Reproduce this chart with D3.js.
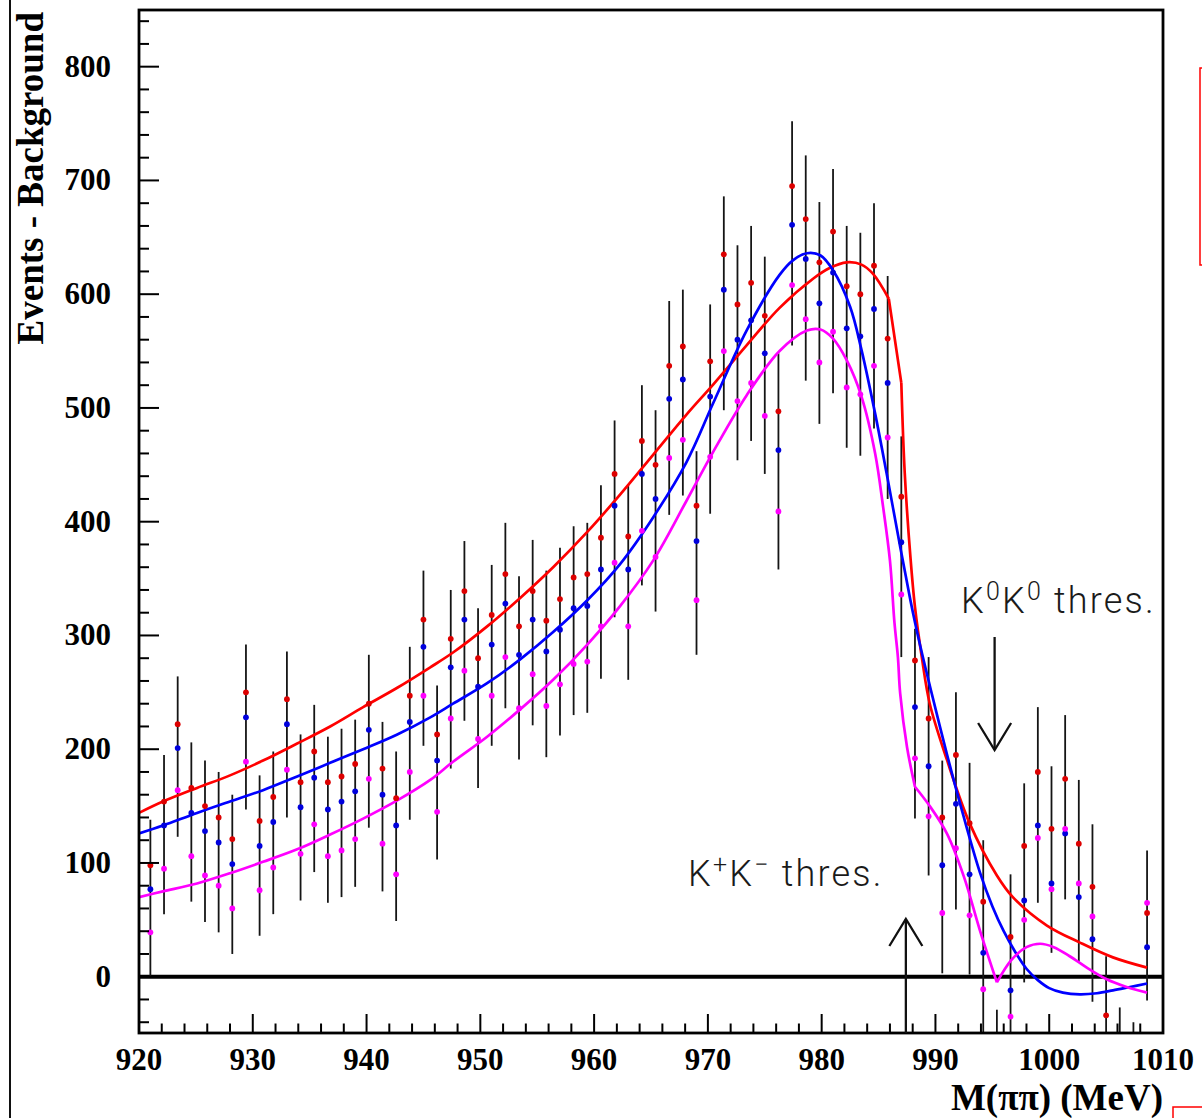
<!DOCTYPE html>
<html>
<head>
<meta charset="utf-8">
<script src="https://d3js.org/d3.v7.min.js"></script>
<style>
  body { margin: 0; background: #fff; }
  svg { display: block; }
</style>
</head>
<body>
<svg id="chart" width="1202" height="1118"></svg>
<script>
// pi pi mass spectrum near the KK threshold, events minus background

// bin centres (MeV)
var bins = [921.0, 922.2, 923.4, 924.6, 925.8, 927.0, 928.2, 929.4, 930.6, 931.8,
  933.0, 934.2, 935.4, 936.6, 937.8, 939.0, 940.2, 941.4, 942.6, 943.8,
  945.0, 946.2, 947.4, 948.6, 949.8, 951.0, 952.2, 953.4, 954.6, 955.8,
  957.0, 958.2, 959.4, 960.6, 961.8, 963.0, 964.2, 965.4, 966.6, 967.8,
  969.0, 970.2, 971.4, 972.6, 973.8, 975.0, 976.2, 977.4, 978.6, 979.8,
  981.0, 982.2, 983.4, 984.6, 985.8, 987.0, 988.2, 989.4, 990.6, 991.8,
  993.0, 994.2, 995.4, 996.6, 997.8, 999.0, 1000.2, 1001.4, 1002.6, 1003.8,
  1005.0, 1006.2, 1007.4, 1008.6];

var redPts = [98, 154, 222, 166, 150, 140, 121, 250, 137, 158,
  244, 171, 198, 171, 176, 187, 240, 183, 157, 247,
  314, 213, 297, 339, 280, 318, 354, 308, 339, 313,
  332, 351, 354, 386, 442, 387, 471, 450, 537, 554,
  414, 541, 635, 591, 610, 581, 497, 695, 666, 628,
  655, 607, 600, 625, 561, 422, 278, 227, 140, 195,
  135, 66, -85, 35, 115, 180, 130, 174, 117, 79,
  -34, -60, -70, 56];

var bluePts = [77, 133, 201, 144, 128, 118, 99, 228, 115, 136,
  222, 149, 175, 147, 154, 163, 217, 160, 133, 224,
  290, 190, 272, 314, 255, 292, 328, 283, 314, 286,
  305, 324, 326, 358, 414, 358, 442, 420, 508, 525,
  383, 510, 604, 560, 577, 548, 463, 661, 631, 592,
  619, 570, 563, 587, 522, 382, 237, 185, 98, 152,
  90, 21, -105, -12, 67, 133, 82, 126, 70, 33,
  -80, -105, -118, 26];

var magPts = [39, 95, 164, 106, 89, 80, 60, 189, 76, 96,
  182, 108, 134, 106, 111, 121, 174, 117, 90, 180,
  247, 145, 227, 269, 209, 247, 281, 236, 266, 238,
  257, 275, 277, 308, 364, 308, 392, 369, 456, 472,
  331, 457, 550, 506, 522, 493, 409, 608, 578, 540,
  567, 518, 512, 537, 474, 336, 192, 141, 56, 113,
  54, -11, -125, -35, 50, 122, 77, 130, 82, 53,
  -70, -95, -105, 65];

// error bar ends
var errHi = [138, 195, 264, 206, 190, 180, 160, 292, 177, 198,
  286, 213, 239, 211, 218, 226, 283, 224, 198, 290,
  357, 256, 340, 383, 324, 362, 399, 352, 384, 357,
  377, 396, 399, 432, 489, 433, 520, 498, 594, 604,
  462, 591, 686, 643, 660, 633, 548, 752, 722, 681,
  710, 660, 654, 680, 616, 475, 306, 281, 190, 250,
  188, 120, -29, 90, 170, 237, 185, 230, 173, 134,
  18, -27, -40, 111];

var errLo = [0, 55, 123, 66, 48, 39, 20, 147, 36, 55,
  140, 67, 92, 65, 70, 79, 131, 75, 49, 138,
  203, 103, 183, 225, 166, 203, 236, 191, 221, 193,
  212, 230, 232, 262, 316, 261, 344, 321, 406, 423,
  283, 407, 498, 454, 471, 442, 358, 555, 524, 486,
  513, 465, 458, 482, 420, 281, 139, 89, 3, 59,
  2, -95, -170, -110, -5, 65, 21, 68, 13, -22,
  -160, -190, -200, -21];

// fitted curves, [mass, events]
var redFit = [[920.0, 144], [922.1, 154], [925.1, 166], [928.0, 177], [930.9, 190],
  [933.9, 205], [936.8, 220], [939.7, 237], [942.7, 254], [945.6, 272],
  [947.6, 285], [950.6, 308], [953.5, 333], [956.4, 360], [959.4, 391],
  [962.3, 424], [965.2, 459], [968.1, 494], [970.5, 521], [973.4, 555],
  [976.3, 588], [979.3, 614], [980.7, 623], [982.2, 628], [983.5, 626],
  [984.5, 618], [985.9, 596], [987.0, 522], [987.3, 443], [987.8, 369],
  [988.2, 325], [988.8, 281], [989.5, 240], [991.0, 191], [993.0, 135],
  [995.4, 89], [996.8, 70], [999.8, 45], [1002.7, 30], [1005.6, 17], [1008.6, 8]];

var blueFit = [[920.0, 126], [922.1, 133], [925.1, 144], [928.0, 154], [930.9, 164],
  [933.9, 176], [936.8, 188], [939.7, 200], [942.7, 213], [945.6, 228],
  [947.6, 240], [950.6, 258], [953.5, 279], [956.4, 303], [959.4, 331],
  [962.3, 363], [965.2, 404], [968.1, 452], [970.5, 505], [973.4, 568],
  [976.3, 617], [977.5, 630], [978.7, 636], [979.9, 634], [981.0, 621],
  [982.5, 589], [983.5, 551], [984.7, 495], [985.7, 443], [986.9, 378],
  [987.8, 331], [988.5, 298], [989.5, 256], [991.0, 196], [992.5, 140],
  [993.9, 92], [995.0, 62], [996.0, 40], [997.0, 22], [998.0, 7], [999.0, -3],
  [1000.0, -10], [1001.2, -14], [1002.7, -15.5], [1004.2, -14.5], [1005.6, -12],
  [1007.1, -9], [1008.6, -6]];

var magFit = [[920.0, 70], [922.1, 75], [925.1, 82], [928.0, 91], [930.9, 101],
  [933.9, 112], [936.8, 125], [939.7, 139], [942.7, 155], [945.6, 173],
  [947.6, 189], [950.6, 211], [953.5, 235], [956.4, 261], [959.4, 292],
  [962.3, 326], [965.2, 366], [968.1, 418], [970.5, 462], [973.4, 511],
  [976.3, 550], [978.7, 568], [979.9, 569], [981.0, 561], [982.2, 542],
  [983.5, 510], [984.7, 460], [985.4, 413], [986.0, 366], [986.4, 311],
  [986.7, 281], [986.9, 249], [987.5, 202], [988.2, 167], [989.5, 150],
  [991.0, 126], [992.5, 88], [993.9, 41], [995.4, -5], [996.7, 15],
  [998.0, 26], [999.2, 29], [1000.4, 26], [1001.8, 18], [1003.3, 8],
  [1005.0, -2], [1006.8, -9], [1008.6, -14]];

// corners in the fitted curves (masses where the drawn line breaks)
var redKinks = [985.9, 987.0];
var blueKinks = [];
var magKinks = [988.2, 995.4];

// thresholds (MeV)
var thresKK0 = 995.2;
var thresKpKm = 987.4;

var xTicks = [920, 930, 940, 950, 960, 970, 980, 990, 1000, 1010];
var yTicks = [0, 100, 200, 300, 400, 500, 600, 700, 800];

var svg = d3.select('#chart');

var padL = 139, padR = 1163, padT = 10, padB = 1033;

var x = d3.scaleLinear().domain([920, 1010]).range([padL, padR]);
var y = d3.scaleLinear().domain([-50, 850]).range([1033.6, 9.8]);

svg.append('rect').attr('width', 1202).attr('height', 1118).attr('fill', '#fff');

// page edge line on the left
svg.append('line').attr('x1', 10).attr('x2', 10).attr('y1', 0).attr('y2', 1118)
  .attr('stroke', '#111').attr('stroke-width', 2);

svg.append('clipPath').attr('id', 'plotclip')
  .append('rect').attr('x', padL).attr('y', padT).attr('width', padR - padL).attr('height', padB - padT);

var plot = svg.append('g').attr('clip-path', 'url(#plotclip)');

// zero line
plot.append('line')
  .attr('x1', padL).attr('x2', padR).attr('y1', y(0)).attr('y2', y(0))
  .attr('stroke', '#000').attr('stroke-width', 4);

var rows = bins.map(function(b, i){
  return {m: b, r: redPts[i], b: bluePts[i], g: magPts[i], hi: errHi[i], lo: errLo[i]};
});

// error bars
plot.selectAll('line.err').data(rows).enter().append('line')
  .attr('class', 'err')
  .attr('x1', function(d){ return x(d.m); })
  .attr('x2', function(d){ return x(d.m); })
  .attr('y1', function(d){ return y(d.hi); })
  .attr('y2', function(d){ return y(d.lo); })
  .attr('stroke', '#151515').attr('stroke-width', 1.8);

var line = d3.line()
  .curve(d3.curveCatmullRom.alpha(0.5))
  .x(function(d){ return x(d[0]); })
  .y(function(d){ return y(d[1]); });

// cut a curve at its corners so every piece is smoothed on its own
function pieces(pts, kinks){
  var out = [], cur = [];
  pts.forEach(function(p){
    cur.push(p);
    if(kinks.indexOf(p[0]) >= 0){
      out.push(cur);
      cur = [p];
    }
  });
  if(cur.length > 1) out.push(cur);
  return out;
}

var fits = [[redFit, redKinks, '#ff0000'], [blueFit, blueKinks, '#0000ff'], [magFit, magKinks, '#ff00ff']];
fits.forEach(function(f){
  var d = pieces(f[0], f[1]).map(line).join('');
  plot.append('path')
    .attr('d', d)
    .attr('fill', 'none')
    .attr('stroke', f[2])
    .attr('stroke-width', 2.7)
    .attr('stroke-linejoin', 'miter');
});

function dots(key, color){
  plot.selectAll('circle.' + key).data(rows).enter().append('circle')
    .attr('class', key)
    .attr('cx', function(d){ return x(d.m); })
    .attr('cy', function(d){ return y(d[key]); })
    .attr('r', 2.9)
    .attr('fill', color);
}
dots('r', '#dd0000');
dots('b', '#0000dd');
dots('g', '#ff00ff');

// frame
svg.append('rect')
  .attr('x', padL).attr('y', padT).attr('width', padR - padL).attr('height', padB - padT)
  .attr('fill', 'none').attr('stroke', '#000').attr('stroke-width', 2.8);

// ticks, drawn inward like root does
var xMinor = d3.range(920, 1010.1, 2);
svg.selectAll('line.xt').data(xMinor).enter().append('line')
  .attr('class', 'xt')
  .attr('x1', function(d){ return x(d); }).attr('x2', function(d){ return x(d); })
  .attr('y1', padB)
  .attr('y2', function(d){ return padB - (d % 10 === 0 ? 19 : 9.5); })
  .attr('stroke', '#000').attr('stroke-width', 2);

var yMinor = d3.range(-40, 850, 20);
svg.selectAll('line.yt').data(yMinor).enter().append('line')
  .attr('class', 'yt')
  .attr('y1', function(d){ return y(d); }).attr('y2', function(d){ return y(d); })
  .attr('x1', padL)
  .attr('x2', function(d){ return padL + (d % 100 === 0 ? 20 : 10); })
  .attr('stroke', '#000').attr('stroke-width', 2);

var serif = '"Liberation Serif", "Times New Roman", serif';

svg.selectAll('text.xl').data(xTicks).enter().append('text')
  .attr('class', 'xl')
  .attr('x', function(d){ return x(d); })
  .attr('y', 1070)
  .attr('text-anchor', 'middle')
  .attr('font-family', serif).attr('font-weight', 'bold').attr('font-size', 31)
  .text(function(d){ return d; });

svg.selectAll('text.yl').data(yTicks).enter().append('text')
  .attr('class', 'yl')
  .attr('x', 111)
  .attr('y', function(d){ return y(d) + 10; })
  .attr('text-anchor', 'end')
  .attr('font-family', serif).attr('font-weight', 'bold').attr('font-size', 31)
  .text(function(d){ return d; });

// axis titles
svg.append('text')
  .attr('transform', 'translate(43,12) rotate(-90)')
  .attr('text-anchor', 'end')
  .attr('font-family', serif).attr('font-weight', 'bold').attr('font-size', 37)
  .text('Events - Background');

svg.append('text')
  .attr('x', padR).attr('y', 1110)
  .attr('text-anchor', 'end')
  .attr('font-family', serif).attr('font-weight', 'bold').attr('font-size', 37)
  .text('M(\u03c0\u03c0) (MeV)');

// threshold labels and arrows
var sans = 'Roboto, "Liberation Sans", sans-serif';

function kLabel(px, py, sup1, sup2){
  var t = svg.append('text')
    .attr('x', px).attr('y', py)
    .attr('font-family', sans).attr('font-weight', 300).attr('font-size', 36)
    .attr('letter-spacing', 2.2)
    .attr('fill', '#1a1a1a');
  t.append('tspan').text('K');
  t.append('tspan').attr('dy', -13).attr('font-size', 25).text(sup1);
  t.append('tspan').attr('dy', 13).text('K');
  t.append('tspan').attr('dy', -13).attr('font-size', 25).text(sup2);
  t.append('tspan').attr('dy', 13).text(' thres.');
}
kLabel(961, 613, '0', '0');
kLabel(688, 886, '+', '\u2212');

function arrow(m, y1, y2, dir){
  var px = x(m);
  var g = svg.append('g').attr('stroke', '#111').attr('stroke-width', 2.3).attr('fill', 'none');
  g.append('line').attr('x1', px).attr('x2', px).attr('y1', y1).attr('y2', y2);
  var tip = dir > 0 ? y2 : y1;
  var back = tip - dir * 27;
  g.append('path').attr('d', 'M' + (px - 16.5) + ',' + back + 'L' + px + ',' + tip + 'L' + (px + 16.5) + ',' + back);
}
arrow(thresKK0, 637, 750, 1);
arrow(thresKpKm, 919, 1033, -1);

// red boxes poking in at the page edge
svg.append('rect').attr('x', 1200).attr('y', 68).attr('width', 40).attr('height', 197)
  .attr('fill', 'none').attr('stroke', '#ff0000').attr('stroke-width', 1.5);
svg.append('rect').attr('x', 1173).attr('y', 1107).attr('width', 60).attr('height', 40)
  .attr('fill', 'none').attr('stroke', '#ff0000').attr('stroke-width', 1.5);
</script>
</body>
</html>
